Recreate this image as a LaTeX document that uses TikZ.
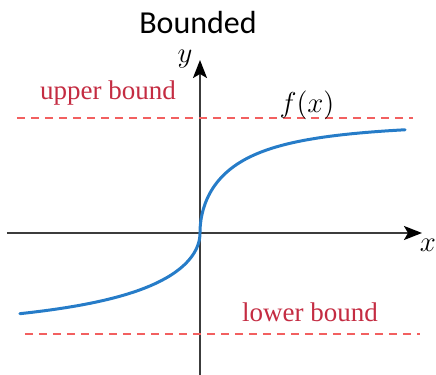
\documentclass[tikz,border=0pt]{standalone}
\usepackage{fontspec}
\setmainfont{Liberation Serif}
\newfontfamily\titlefont{Carlito}
\usepackage{tikz}
\usetikzlibrary{arrows.meta, positioning}
\definecolor{boundred}{RGB}{242, 96, 96}
\definecolor{labelred}{RGB}{196, 44, 66}
\definecolor{curveblue}{RGB}{38, 124, 200}
\definecolor{axisgray}{RGB}{60, 60, 60}

\begin{document}
\begin{tikzpicture}[x=0.5pt, y=0.5pt,
		axis/.style={axisgray, line width=1pt, -{Stealth[length=9pt, width=7pt, inset=2pt, black]}},
		boundline/.style={boundred, line width=0.6pt, dash pattern=on 4pt off 3pt},
		boundlabel/.style={labelred, font=\fontsize{13.5}{14}\selectfont, inner sep=0pt}]
	\useasboundingbox (-200,-142) rectangle (236,233);
	% axes
	\coordinate (xstart) at (-193,0);
	\coordinate (xend) at (222,0);
	\coordinate (ystart) at (0,-142);
	\coordinate (yend) at (0,173);
	\draw[axis] (xstart) -- (xend);
	\draw[axis] (ystart) -- (yend);
	\node[inner sep=0pt] (xlabel) at (228,-12) {\fontsize{15}{16}\selectfont$x$};
	\node[inner sep=0pt] (ylabel) at (-15,174) {\fontsize{15}{16}\selectfont$y$};
	% bounds
	\coordinate (upleft) at (-183,115);
	\coordinate (upright) at (213,115);
	\coordinate (lowleft) at (-175,-101);
	\coordinate (lowright) at (220,-101);
	\draw[boundline] (upleft) -- (upright);
	\draw[boundline] (lowleft) -- (lowright);
	\node[boundlabel] (upper) at (-92,140) {upper bound};
	\node[boundlabel] (lower) at (110,-79) {lower bound};
	% curve
	\draw[curveblue, line width=1.5pt, line cap=round]
		plot[domain=13.42:0, samples=60, variable=\t] ({-\t*\t}, {-100*tanh(\t/12)})
		-- plot[domain=0:14.32, samples=60, variable=\t] ({\t*\t}, {110*tanh(\t/8.3)});
	\node[inner sep=0pt] (fx) at (107,128) {\fontsize{14}{16}\selectfont$f(x)$};
	% title
	\node[inner sep=0pt] (title) at (-2,210) {\titlefont\fontsize{16}{18}\selectfont Bounded};
\end{tikzpicture}
\end{document}
